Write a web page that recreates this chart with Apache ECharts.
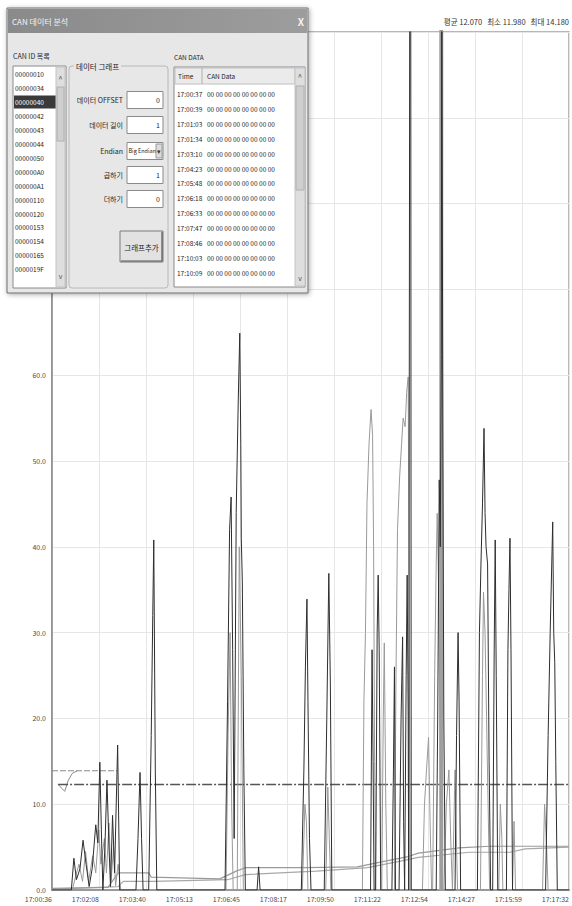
<!DOCTYPE html>
<html><head><meta charset="utf-8">
<script src="https://cdn.jsdelivr.net/npm/echarts@6/dist/echarts.min.js"></script>
<style>html,body{margin:0;padding:0;background:#fff}#c{width:572px;height:906px}</style>
</head><body><div id="c"></div>
<script>
const FONT = '"Noto Sans CJK KR", "Noto Sans", sans-serif';
// x values are seconds since 17:00:36
const xTickLabels = ['17:00:36','17:02:08','17:03:40','17:05:13','17:06:45','17:08:17','17:09:50','17:11:22','17:12:54','17:14:27','17:15:59','17:17:32'];
const xMax = 1016;
const yLabelMaxShown = 60; // labels above are hidden behind the dialog
const statsText = '평균 12.070   최소 11.980   최대 14.180';

const seriesDark = [
 [0,0],[22,0],[38,0],[43,3.7],[48,1.2],[55,2.5],[61,5.8],[67,3],[73,0.4],[79,2.5],[86,7.6],[90,5.5],[94,14.9],[97,7],[100,0],[104,5],[108,12.8],[112,5],[115,0.4],[119,8.7],[123,2],[129,16.9],[133,0],[165,0],[169,6],[173,13.7],[176,6],[179,0],[190,0],[195,18],[198,32],[200,40.8],[203,14],[206,0],
 [340,0],[345,22],[349,42],[352,45.8],[355,28],[358,6],[362,44],[366,57],[369,64.9],[371,52],[372,41],[374,36],[377,14],[380,0],
 [403,0],[406,2.7],[409,0],
 [490,0],[495,14],[498,26],[501,33.9],[503,22],[506,6],[509,0],
 [535,0],[540,20],[544,36.9],[547,24],[550,0],
 [626,0],[629,28],[631,15],[633,0],[636,0],[639,30],[641,36.7],[643,28],[646,0],
 [668,0],[671,14],[673,26],[675,0],[682,0],[686,20],[689,29.5],[691,8],[693,0],[696,25],[698,36.7],[700,20],[701,0],[703,105],[705,105],[706,0],
 [755,0],[758,20],[761,47.8],[763,40],[765,62.4],[766,105],[767,105],[768,55],[770,20],[773,0],[792,0],[795,18],[798,30],[800,22],[803,0],
 [836,0],[840,30],[843,38],[846,45],[849,53.8],[851,44],[853,40],[856,38],[859,15],[862,0],[866,0],[869,28],[871,40.8],[873,25],[876,0],[893,0],[896,28],[898,35],[900,41],[902,28],[905,0],
 [970,0],[975,18],[979,30],[984,42.9],[986,30],[988,26.5],[990,15],[993,0],[1016,0]
];
const seriesGrey = [
 [0,0],[40,0],[46,1.5],[53,3],[60,1],[66,4.5],[72,1],[80,4],[86,2],[92,7],[96,3],[103,6],[107,2],[112,7.8],[116,1],[121,5],[125,0.5],[130,3],[135,0],
 [342,0],[346,18],[350,30],[353,10],[356,0],[364,0],[368,40],[372,25],[376,0],
 [492,0],[497,10],[500,8],[503,0],[538,0],[542,12],[545,6],[548,0],
 [610,0],[613,22],[616,30],[619,45],[623,52],[627,56],[630,53],[632,40],[634,15],[636,0],[648,0],[651,20],[653,28.8],[656,10],[659,0],
 [673,0],[676,25],[679,42],[683,48],[687,52],[690,55],[694,54],[697,58],[700,59.8],[702,30],[704,0],
 [728,0],[732,10],[736,14],[740,17.8],[743,8],[746,0],[748,0],[752,25],[755,38],[757,43.9],[759,38],[761,30],[763,12],[765,0],[770,0],[775,10],[780,14],[784,5],[787,0],[788,0],[792,14],[795,5],[797,0],
 [842,0],[846,25],[848,34.7],[851,30],[854,20],[857,10],[860,0],[878,0],[881,10],[884,6],[886,0],[905,0],[908,8],[911,0],
 [964,0],[968,10],[972,5],[975,0],[1016,0]
];
const seriesBand = [[765,0],[765,105]];
const seriesAvgLine = [[12,12.3],[300,12.3],[600,12.3],[1016,12.3]];
const seriesHighLine = [[0,13.9],[64,13.9],[128,13.9]];
const seriesStartCurve = [[12,12.3],[20,11.8],[25,11.5],[32,12.8],[40,13.6],[50,13.9]];
const seriesBase1 = [[0,0.2],[110,0.3],[130,2.0],[190,2.0],[195,1.5],[330,1.3],[362,2.2],[380,2.6],[500,2.6],[600,2.7],[650,3.3],[700,3.9],[720,4.3],[800,4.9],[860,5.1],[1016,5.1]];
const seriesBase2 = [[0,0.1],[130,0.4],[140,1.0],[200,1.0],[345,1.2],[380,1.8],[520,2.2],[620,2.6],[680,3.3],[720,3.8],[820,4.4],[900,4.4],[930,4.8],[1016,5.0]];

// dialog contents
const dialogTitle = 'CAN 데이터 분석';
const canIdLabel = 'CAN ID 목록';
const canIds = ['00000010','00000034','00000040','00000042','00000043','00000044','00000050','000000A0','000000A1','00000110','00000120','00000153','00000154','00000165','0000019F'];
const selectedIdIndex = 2;
const graphGroupTitle = '데이터 그래프';
const fieldLabels = ['데이터 OFFSET','데이터 길이','Endian','곱하기','더하기'];
const fieldValues = ['0','1','Big Endian','1','0'];
const addButtonText = '그래프추가';
const canDataLabel = 'CAN DATA';
const tableHeaders = ['Time','CAN Data'];
const canTimes = ['17:00:37','17:00:39','17:01:03','17:01:34','17:03:10','17:04:23','17:05:48','17:06:18','17:06:33','17:07:47','17:08:46','17:10:03','17:10:09'];
const canDataRow = '00 00 00 00 00 00 00 00';

const Z = 100;
const INK = '#1e1e1e';
function rect(x,y,w,h,fill,stroke,lw,extra){return Object.assign({type:'rect',z:Z,shape:{x:x,y:y,width:w,height:h},style:{fill:fill,stroke:stroke||null,lineWidth:lw||1}},extra||{});}
function txt(x,y,t,o){const s=Object.assign({text:t,fill:INK,fontSize:7,fontFamily:FONT,align:'left',verticalAlign:'middle'},o||{});s.textAlign=s.align;s.textVerticalAlign=s.verticalAlign;return {type:'text',z:Z+2,x:x,y:y,style:s};}
function line(x1,y1,x2,y2,c,w){return {type:'line',z:Z+1,shape:{x1:x1,y1:y1,x2:x2,y2:y2},style:{stroke:c,lineWidth:w||1}};}

const els = [];
// window frame
els.push(rect(7,8,301,285,'#e7e7e7','#6f6f6f',1,{style:{fill:'#e7e7e7',stroke:'#6f6f6f',lineWidth:1,shadowBlur:5,shadowColor:'rgba(0,0,0,0.35)',shadowOffsetX:1,shadowOffsetY:1}}));
els.push(rect(8,9,299,24,new echarts.graphic.LinearGradient(0,0,1,0,[{offset:0,color:'#8a8a8a'},{offset:1,color:'#9d9d9d'}]),null));
els.push(txt(12,21,dialogTitle,{fill:'#f2f2f2',fontSize:8}));
els.push(txt(301,21,'X',{fill:'#f2f2f2',fontSize:10,fontWeight:'bold',align:'center'}));
// CAN ID list
els.push(txt(13,56,canIdLabel));
els.push(rect(13,66,53,222,'#ffffff','#8a8a8a'));
canIds.forEach(function(id,i){
  const cy = 74 + i*13.95;
  if(i===selectedIdIndex){ els.push(rect(14,cy-6.5,42,13,'#3a3a3a',null)); }
  els.push(txt(15,cy,id,{fill:i===selectedIdIndex?'#ffffff':INK,fontSize:6.5}));
});
els.push(rect(56,67,9,220,'#dedede','#c4c4c4'));
els.push(rect(57,87,7,54,'#cfcfcf','#b0b0b0'));
els.push(txt(60.5,78,'^',{align:'center',fontSize:8,fill:'#555'}));
els.push(txt(60.5,276,'v',{align:'center',fontSize:7,fill:'#555'}));
// data graph group
els.push({type:'rect',z:Z,shape:{x:69,y:66,width:99,height:222,r:3},style:{fill:null,stroke:'#b8b8b8',lineWidth:1}});
els.push(txt(74,66,graphGroupTitle,{backgroundColor:'#e7e7e7',padding:[0,2],fontSize:7.5}));
const fieldY = [100,125,151,175,199];
fieldLabels.forEach(function(lb,i){
  const cy = fieldY[i];
  els.push(txt(123,cy,lb,{align:'right',fontSize:7}));
  els.push(rect(127,cy-8.5,36,17,'#ffffff','#8a8a8a'));
  if(i===2){
    els.push(txt(128.5,cy,fieldValues[i],{fontSize:5.5}));
    els.push(rect(156,cy-7,6,14,'#dcdcdc','#999'));
    els.push(txt(159,cy,'▾',{align:'center',fontSize:7,fill:'#333'}));
  } else {
    els.push(txt(160,cy,fieldValues[i],{align:'right',fontSize:7}));
  }
});
els.push(rect(120,231,43,31,'#e2e2e2','#7a7a7a'));
els.push(line(121,261,162,261,'#555',1.2));
els.push(line(162,232,162,261,'#555',1.2));
els.push(txt(141.5,247,addButtonText,{align:'center',fontSize:7.5}));
// CAN data table
els.push(txt(174,57,canDataLabel,{fontSize:6.5}));
els.push(rect(174,67,131,220,'#ffffff','#8a8a8a'));
els.push(rect(175,68,120,16,'#ebebeb','#c0c0c0'));
els.push(line(202,68,202,84,'#b0b0b0',1));
els.push(txt(178,76,tableHeaders[0],{fontSize:6.5}));
els.push(txt(207,76,tableHeaders[1],{fontSize:6.5}));
canTimes.forEach(function(t,i){
  const cy = 94 + i*14.9;
  els.push(txt(177,cy,t,{fontSize:6.5}));
  els.push(txt(207,cy,canDataRow,{fontSize:6.5}));
});
els.push(rect(295,68,10,218,'#dedede','#c4c4c4'));
els.push(rect(296,86,8,104,'#cfcfcf','#b0b0b0'));
els.push(txt(300,76,'^',{align:'center',fontSize:8,fill:'#555'}));
els.push(txt(300,278,'v',{align:'center',fontSize:7,fill:'#555'}));
// stats header
els.push(txt(569,21,statsText,{align:'right',fontSize:7.5,fill:'#333'}));

const chart = echarts.init(document.getElementById('c'), null, {renderer:'svg'});
const xInterval = xMax / (xTickLabels.length - 1);
function lineSeries(data,color,width,type,z){
  return {type:'line',data:data,showSymbol:false,symbol:'none',animation:false,z:z||2,clip:true,
    lineStyle:{color:color,width:width,type:type||'solid'},emphasis:{disabled:true}};
}
chart.setOption({
  animation:false,
  backgroundColor:'#ffffff',
  textStyle:{fontFamily:FONT},
  grid:{left:52,right:2,top:32,bottom:16,show:true,borderColor:'#a0a0a0',borderWidth:1.5,backgroundColor:'transparent'},
  xAxis:{type:'value',min:0,max:xMax,interval:xInterval,
    axisLine:{show:true,lineStyle:{color:'#999',width:2}},axisTick:{show:false},
    splitLine:{show:true,lineStyle:{color:'#e6e6e6',width:1}},
    axisLabel:{show:true,showMaxLabel:true,showMinLabel:true,align:'right',margin:5,fontSize:7,color:'#4a4a4a',
      formatter:function(v){return xTickLabels[Math.round(v/xInterval)]||'';}}},
  yAxis:{type:'value',min:0,max:100,interval:10,
    axisLine:{show:true,lineStyle:{color:'#888',width:1.5}},axisTick:{show:false},
    splitLine:{show:true,lineStyle:{color:'#e6e6e6',width:1}},
    axisLabel:{margin:6,fontSize:7,color:'#4a4a4a',formatter:function(v){return v>yLabelMaxShown?'':v.toFixed(1);}}},
  series:[
    lineSeries(seriesBase2,'#a8a8a8',1.2),
    lineSeries(seriesBase1,'#9a9a9a',1.2),
    lineSeries(seriesHighLine,'#8a8a8a',1.2,[6,2]),
    lineSeries(seriesStartCurve,'#8a8a8a',1),
    lineSeries(seriesAvgLine,'#555555',1.5,[10,2,2,2]),
    lineSeries(seriesBand,'#a0a0a0',4),
    lineSeries(seriesGrey,'#9a9a9a',1),
    lineSeries(seriesDark,'#2e2e2e',1,'solid',3)
  ],
  graphic:{elements:els}
});
</script></body></html>
